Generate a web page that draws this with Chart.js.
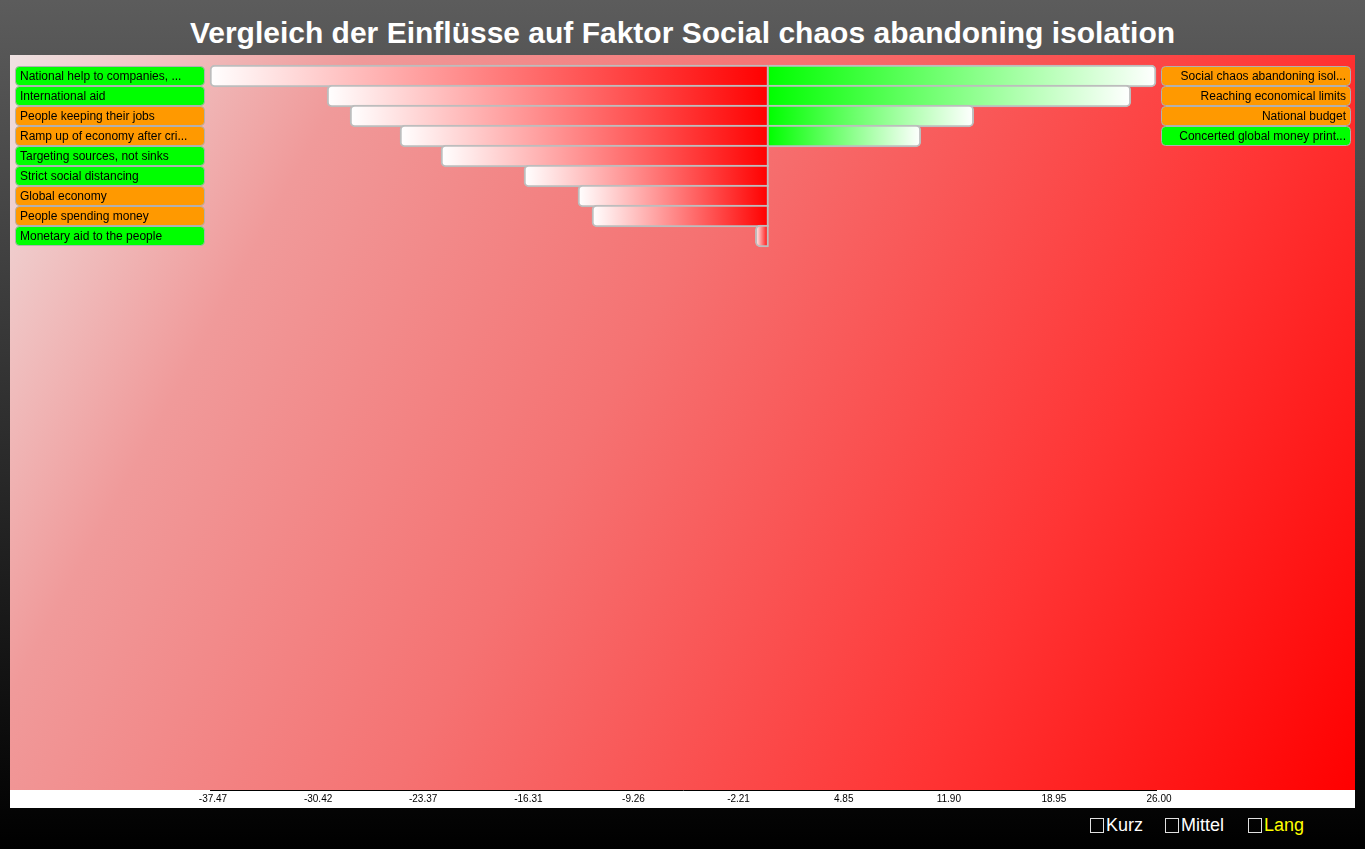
<!DOCTYPE html>
<html>
<head>
<meta charset="utf-8">
<script src="https://cdn.jsdelivr.net/npm/chart.js@4/dist/chart.umd.min.js"></script>
<style>
    html, body {
        margin: 0;
        width: 1365px;
        height: 849px;
        overflow: hidden;
        background: linear-gradient(#5c5c5c, #000000);
        font-family: "Liberation Sans", Arial, Helvetica, sans-serif;
    }
    #title {
        position: absolute;
        left: 0;
        top: 14px;
        width: 1365px;
        text-align: center;
        color: #ffffff;
        font-weight: bold;
        font-size: 30px;
        line-height: 38px;
    }
    #chartBox {
        position: absolute;
        left: 10px;
        top: 55px;
    }
    .opt {
        position: absolute;
        top: 815px;
        color: #ffffff;
        font-size: 18px;
        line-height: 21px;
    }
    .opt span.box {
        display: inline-block;
        width: 12px;
        height: 13px;
        border: 1px solid #e0e0e0;
        vertical-align: -2px;
        margin-right: 2px;
    }
</style>
</head>
<body>
<div id="title">Vergleich der Einflüsse auf Faktor Social chaos abandoning isolation</div>
<div id="chartBox"><canvas id="chart" width="1345" height="753"></canvas></div>
<div class="opt" style="left:1090px"><span class="box"></span>Kurz</div>
<div class="opt" style="left:1165px"><span class="box"></span>Mittel</div>
<div class="opt" style="left:1248px"><span class="box"></span><span style="color:#ffff00">Lang</span></div>
<script>
    // linke Seite (negative Einflüsse)
    var leftLabels = [
        "National help to companies, ...",
        "International aid",
        "People keeping their jobs",
        "Ramp up of economy after cri...",
        "Targeting sources, not sinks",
        "Strict social distancing",
        "Global economy",
        "People spending money",
        "Monetary aid to the people"
    ];
    var leftValues = [-37.47, -29.61, -28.07, -24.72, -21.97, -16.40, -12.78, -11.84, -0.88];
    var leftKinds = ["g", "g", "o", "o", "g", "g", "o", "o", "g"];

    // rechte Seite (positive Einflüsse)
    var rightLabels = [
        "Social chaos abandoning isol...",
        "Reaching economical limits",
        "National budget",
        "Concerted global money print..."
    ];
    var rightValues = [26.00, 24.31, 13.77, 10.22];
    var rightKinds = ["o", "o", "o", "g"];

    var xTicks = [-37.47, -30.42, -23.37, -16.31, -9.26, -2.21, 4.85, 11.90, 18.95, 26.00];

    var kindColor = { g: "#00ff00", o: "#ff9900" };

    function barFill(ctx, endColor, zeroColor) {
        var chart = ctx.chart;
        if (!chart.chartArea || ctx.type !== "data" || !chart.scales.x) return zeroColor;
        var xs = chart.scales.x;
        var g = chart.ctx.createLinearGradient(xs.getPixelForValue(ctx.raw.x), 0, xs.getPixelForValue(0), 0);
        g.addColorStop(0, endColor);
        g.addColorStop(1, zeroColor);
        return g;
    }

    function roundBox(c, x, y, w, h, r) {
        c.beginPath();
        c.moveTo(x + r, y);
        c.lineTo(x + w - r, y);
        c.quadraticCurveTo(x + w, y, x + w, y + r);
        c.lineTo(x + w, y + h - r);
        c.quadraticCurveTo(x + w, y + h, x + w - r, y + h);
        c.lineTo(x + r, y + h);
        c.quadraticCurveTo(x, y + h, x, y + h - r);
        c.lineTo(x, y + r);
        c.quadraticCurveTo(x, y, x + r, y);
        c.closePath();
    }

    var panelBackground = {
        id: "panelBackground",
        beforeDraw(chart) {
            var c = chart.ctx;
            var bottom = chart.chartArea.bottom;
            var g = c.createLinearGradient(0, 0, chart.width, bottom);
            g.addColorStop(0, "#efe2e2");
            g.addColorStop(0.2, "#f09a9a");
            g.addColorStop(0.45, "#f57272");
            g.addColorStop(0.75, "#ff3434");
            g.addColorStop(1, "#ff0000");
            c.save();
            c.fillStyle = g;
            c.fillRect(0, 0, chart.width, bottom);
            c.fillStyle = "#ffffff";
            c.fillRect(0, bottom, chart.width, chart.height - bottom);
            c.restore();
        }
    };

    var labelBoxes = {
        id: "labelBoxes",
        afterDraw(chart) {
            var c = chart.ctx;
            var ys = chart.scales.y;
            c.save();
            c.font = "12px 'Liberation Sans', Arial, sans-serif";
            c.textBaseline = "middle";
            c.lineWidth = 1;
            c.strokeStyle = "#b0b0b0";
            leftLabels.forEach((txt, i) => {
                var y = ys.getPixelForValue(i);
                roundBox(c, 5.5, y - 9.5, 189, 19, 4);
                c.fillStyle = kindColor[leftKinds[i]];
                c.fill();
                c.stroke();
                c.fillStyle = "#000000";
                c.textAlign = "left";
                c.fillText(txt, 10, y + 0.5);
            });
            rightLabels.forEach((txt, i) => {
                var y = ys.getPixelForValue(i);
                roundBox(c, 1151.5, y - 9.5, 189, 19, 4);
                c.fillStyle = kindColor[rightKinds[i]];
                c.fill();
                c.stroke();
                c.fillStyle = "#000000";
                c.textAlign = "right";
                c.fillText(txt, 1336, y + 0.5);
            });
            c.restore();
        }
    };

    new Chart(document.getElementById("chart"), {
        type: "bar",
        data: {
            datasets: [{
                data: leftValues.map((v, i) => ({ x: v, y: i })),
                backgroundColor: ctx => barFill(ctx, "#ffffff", "#ff0000"),
                borderColor: "#bdbdbd",
                borderWidth: 2,
                borderSkipped: false,
                borderRadius: { topLeft: 5, bottomLeft: 5, topRight: 0, bottomRight: 0 },
                barThickness: 22,
                clip: false
            }, {
                data: rightValues.map((v, i) => ({ x: v, y: i })),
                backgroundColor: ctx => barFill(ctx, "#ffffff", "#00ff00"),
                borderColor: "#bdbdbd",
                borderWidth: 2,
                borderSkipped: "start",
                borderRadius: { topLeft: 0, bottomLeft: 0, topRight: 5, bottomRight: 5 },
                barThickness: 22,
                clip: false
            }]
        },
        options: {
            indexAxis: "y",
            responsive: false,
            animation: false,
            events: [],
            devicePixelRatio: 1,
            layout: { padding: { left: 200, right: 199, top: 1, bottom: 0 } },
            plugins: {
                legend: { display: false },
                tooltip: { enabled: false },
                title: { display: false }
            },
            scales: {
                x: {
                    type: "linear",
                    stacked: true,
                    min: -37.47,
                    max: 26.00,
                    grid: { display: false, drawTicks: false },
                    border: { display: true, color: "#000000", width: 1 },
                    afterBuildTicks: scale => {
                        scale.ticks = xTicks.map(v => ({ value: v }));
                    },
                    afterFit: scale => {
                        scale.height = 18;
                    },
                    ticks: {
                        padding: 3,
                        labelOffset: 3,
                        maxRotation: 0,
                        autoSkip: false,
                        color: "#000000",
                        font: { family: "'Liberation Sans', Arial, sans-serif", size: 10 },
                        callback: v => Number(v).toFixed(2)
                    }
                },
                y: {
                    type: "linear",
                    stacked: true,
                    reverse: true,
                    offset: false,
                    grace: 0,
                    min: -1,
                    max: 35.7,
                    display: false
                }
            }
        },
        plugins: [panelBackground, labelBoxes]
    });
</script>
</body>
</html>
